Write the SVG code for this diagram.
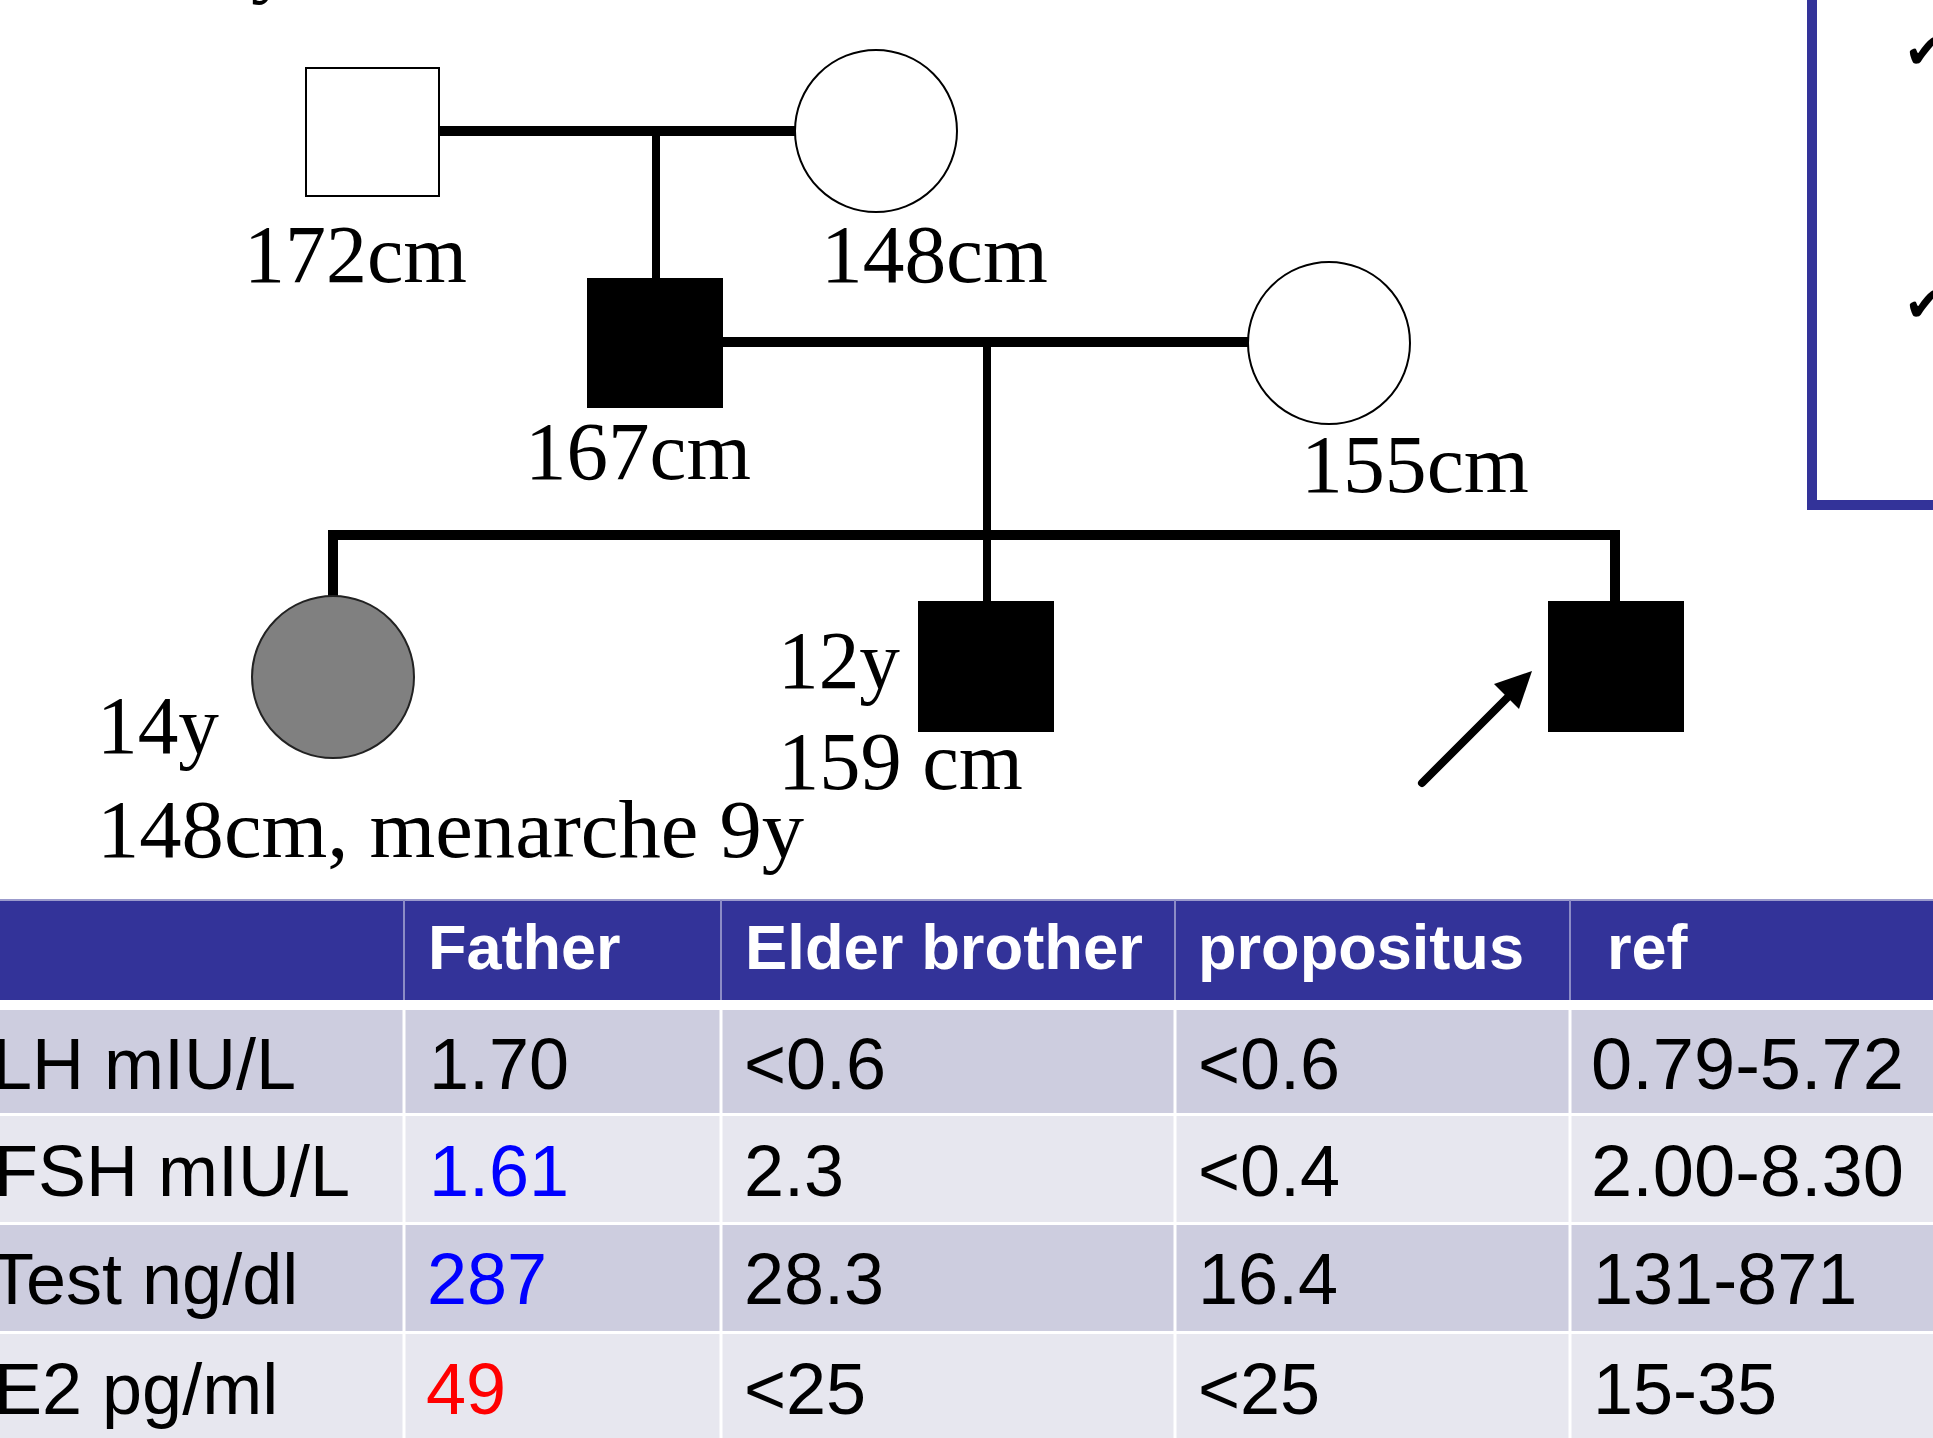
<svg xmlns="http://www.w3.org/2000/svg" width="1933" height="1438" viewBox="0 0 1933 1438">
<style>
.lbl{font-family:"Liberation Serif","Times New Roman",serif;font-size:83px;fill:#000}
.hd{font-family:"Liberation Sans",Arial,sans-serif;font-size:63px;font-weight:bold;fill:#fff}
.td{font-family:"Liberation Sans",Arial,sans-serif;font-size:72px;fill:#000}
.chk{font-family:"DejaVu Sans",sans-serif;font-size:50px;font-weight:bold;fill:#000}
.thick{stroke:#000;stroke-width:10;fill:none}
.thin{stroke:#000;stroke-width:8;fill:none}
.sep{stroke:#fff;stroke-width:3}
</style>
<rect x="0" y="0" width="1933" height="1438" fill="#fff"/>
<text class="lbl" x="251" y="-13">y</text>
<g id="info-box">
<rect x="1812" y="-20" width="200" height="525" fill="none" stroke="#333399" stroke-width="10"/>
<text class="chk" x="1904" y="68">✔</text>
<text class="chk" x="1904" y="321">✔</text>
</g>
<g id="connectors">
<line class="thick" x1="439" y1="131" x2="796" y2="131"/>
<line class="thin" x1="656" y1="131" x2="656" y2="279"/>
<line class="thick" x1="723" y1="342" x2="1248" y2="342"/>
<line class="thin" x1="987" y1="342" x2="987" y2="602"/>
<path class="thick" d="M333,598 L333,535 L1615,535 L1615,602"/>
<line x1="1422" y1="783" x2="1512" y2="693" stroke="#000" stroke-width="8" stroke-linecap="round"/>
<polygon points="1532,671 1494,684 1519,709" fill="#000"/>
</g>
<g id="grandfather">
<rect x="306" y="68" width="133" height="128" fill="#fff" stroke="#000" stroke-width="2"/>
<text class="lbl" x="244" y="282" textLength="223" lengthAdjust="spacingAndGlyphs">172cm</text>
</g>
<g id="grandmother">
<circle cx="876" cy="131" r="81" fill="#fff" stroke="#000" stroke-width="2"/>
<text class="lbl" x="821" y="282" textLength="227" lengthAdjust="spacingAndGlyphs">148cm</text>
</g>
<g id="father">
<rect x="587" y="278" width="136" height="130" fill="#000"/>
<text class="lbl" x="525" y="479" textLength="226" lengthAdjust="spacingAndGlyphs">167cm</text>
</g>
<g id="mother">
<circle cx="1329" cy="343" r="81" fill="#fff" stroke="#000" stroke-width="2"/>
<text class="lbl" x="1301" y="492" textLength="228" lengthAdjust="spacingAndGlyphs">155cm</text>
</g>
<g id="sister">
<circle cx="333" cy="677" r="81" fill="#808080" stroke="#222" stroke-width="2"/>
<text class="lbl" x="97" y="753" textLength="122" lengthAdjust="spacingAndGlyphs">14y</text>
<text class="lbl" x="97" y="857" textLength="707" lengthAdjust="spacingAndGlyphs">148cm, menarche 9y</text>
</g>
<g id="elder-brother">
<rect x="918" y="601" width="136" height="131" fill="#000"/>
<text class="lbl" x="778" y="688" textLength="122" lengthAdjust="spacingAndGlyphs">12y</text>
<text class="lbl" x="778" y="789" textLength="245" lengthAdjust="spacingAndGlyphs">159 cm</text>
</g>
<g id="propositus">
<rect x="1548" y="601" width="136" height="131" fill="#000"/>
</g>
<g id="table">
<rect x="-10" y="900" width="1960" height="100" fill="#333399"/>
<rect x="-10" y="1010" width="1960" height="103" fill="#CDCDDF"/>
<rect x="-10" y="1116" width="1960" height="106" fill="#E7E7EF"/>
<rect x="-10" y="1225" width="1960" height="106" fill="#CDCDDF"/>
<rect x="-10" y="1334" width="1960" height="110" fill="#E7E7EF"/>
<line x1="0" y1="900" x2="1933" y2="900" stroke="#9b9bcc" stroke-width="2"/>
<g stroke="#8c8cc6" stroke-width="2">
<line x1="404" y1="900" x2="404" y2="1000"/>
<line x1="721" y1="900" x2="721" y2="1000"/>
<line x1="1175" y1="900" x2="1175" y2="1000"/>
<line x1="1570" y1="900" x2="1570" y2="1000"/>
</g>
<g class="sep">
<line x1="404" y1="1010" x2="404" y2="1438"/>
<line x1="721" y1="1010" x2="721" y2="1438"/>
<line x1="1175" y1="1010" x2="1175" y2="1438"/>
<line x1="1570" y1="1010" x2="1570" y2="1438"/>
</g>
<text class="hd" x="428" y="969">Father</text>
<text class="hd" x="745" y="969" textLength="398" lengthAdjust="spacingAndGlyphs">Elder brother</text>
<text class="hd" x="1198" y="969" textLength="326" lengthAdjust="spacingAndGlyphs">propositus</text>
<text class="hd" x="1607" y="969">ref</text>
<text class="td" x="-8" y="1089">LH mIU/L</text>
<text class="td" x="429" y="1089">1.70</text>
<text class="td" x="744" y="1089">&lt;0.6</text>
<text class="td" x="1198" y="1089">&lt;0.6</text>
<text class="td" x="1591" y="1089" textLength="313" lengthAdjust="spacingAndGlyphs">0.79-5.72</text>
<text class="td" x="-6" y="1196">FSH mIU/L</text>
<text class="td" x="429" y="1196" style="fill:#0000FF">1.61</text>
<text class="td" x="744" y="1196">2.3</text>
<text class="td" x="1198" y="1196">&lt;0.4</text>
<text class="td" x="1591" y="1196" textLength="313" lengthAdjust="spacingAndGlyphs">2.00-8.30</text>
<text class="td" x="-10" y="1304">Test ng/dl</text>
<text class="td" x="427" y="1304" style="fill:#0000FF">287</text>
<text class="td" x="744" y="1304">28.3</text>
<text class="td" x="1198" y="1304">16.4</text>
<text class="td" x="1593" y="1304">131-871</text>
<text class="td" x="-6" y="1414">E2 pg/ml</text>
<text class="td" x="426" y="1414" style="fill:#FF0000">49</text>
<text class="td" x="744" y="1414">&lt;25</text>
<text class="td" x="1198" y="1414">&lt;25</text>
<text class="td" x="1593" y="1414">15-35</text>
</g>
</svg>
